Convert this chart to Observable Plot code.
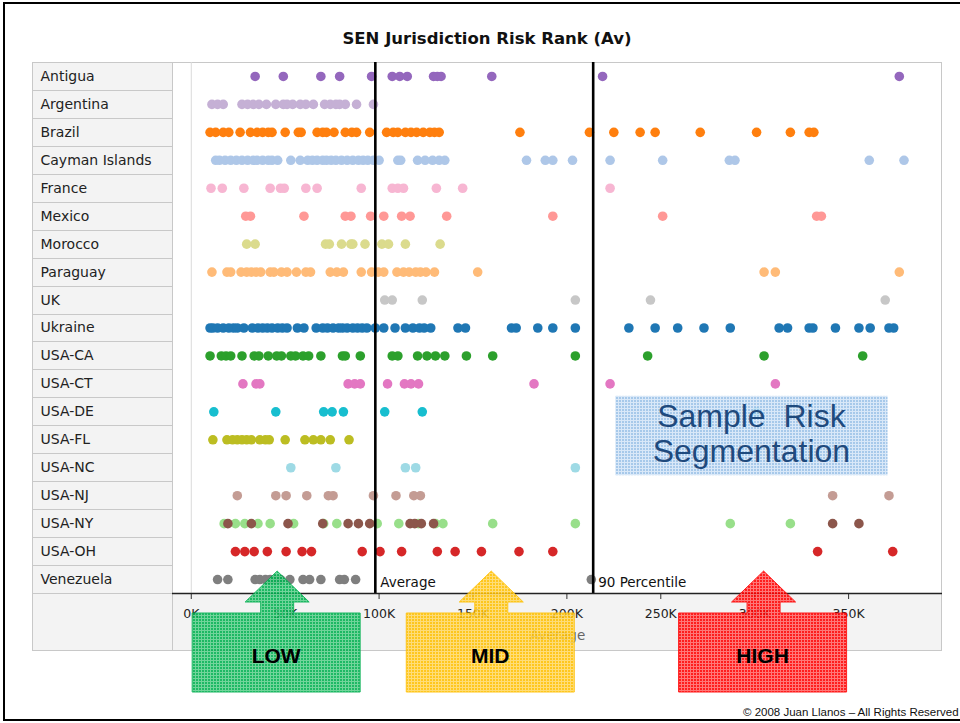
<!DOCTYPE html>
<html>
<head>
<meta charset="utf-8">
<script src="https://cdn.jsdelivr.net/npm/d3@7"></script>
<script src="https://cdn.jsdelivr.net/npm/@observablehq/plot@0.6"></script>
<style>
  html, body { margin: 0; padding: 0; background: #fff; }
  body { width: 960px; height: 723px; overflow: hidden; position: relative; font-family: "DejaVu Sans", sans-serif; }
  #outer { position: absolute; left: 3px; top: 2px; width: 990px; height: 719px; border: 2px solid #000; box-sizing: border-box; }
  #title { position: absolute; left: 32px; width: 910px; top: 29px; text-align: center; font: bold 16.5px "DejaVu Sans", sans-serif; color: #111; line-height: 20px; }
  #chart { position: absolute; left: 32px; top: 62px; }
  #copy { position: absolute; left: 743px; top: 706px; font: 11.5px "Liberation Sans", sans-serif; color: #111; white-space: nowrap; }
  #overlay { position: absolute; left: 0; top: 0; pointer-events: none; }
</style>
</head>
<body>
<div id="outer"></div>
<div id="title">SEN Jurisdiction Risk Rank (Av)</div>
<div id="chart"></div>
<div id="copy">© 2008 Juan Llanos – All Rights Reserved</div>
<script>
// ---------- data (values in thousands) ----------
const categories = ["Antigua","Argentina","Brazil","Cayman Islands","France","Mexico","Morocco","Paraguay","UK","Ukraine","USA-CA","USA-CT","USA-DE","USA-FL","USA-NC","USA-NJ","USA-NY","USA-OH","Venezuela"];

const antigua   = [34, 49, 69, 79, 96, 107, 111, 115, 129, 131, 133, 160, 219, 377];
const argentina = [11, 14, 17, 27, 30, 33, 36, 40, 45, 49, 51, 54, 58, 61, 65, 71, 74, 77, 79, 82, 88, 97];
const brazil    = [10, 13, 17, 20, 26, 31.5, 35, 38, 41, 43, 50, 57, 58.5, 67, 70, 72, 76, 82, 85.5, 88, 95, 104, 107.5, 110, 114, 117, 120, 123.5, 127, 129.5, 132, 175, 212, 225, 239, 247, 271, 301, 319, 329, 331.5];
const cayman    = [13, 15, 18, 21, 24, 27, 30, 33, 35, 38, 41, 43, 46, 53, 58, 62, 64.5, 67, 70, 72, 74.5, 77, 80, 83, 86, 89, 91.5, 94, 97, 100, 110, 111.5, 120.5, 124.5, 128.5, 132, 135, 178.5, 188.5, 192.5, 203, 223, 251, 286.5, 289.5, 361, 379.5];
const france    = [10.5, 16.5, 28, 42, 47.5, 49.5, 61, 67, 90.5, 107, 110, 113, 130.5, 144.5, 223];
const mexico    = [29, 31.5, 60, 82, 85, 95.5, 102.5, 112, 116.5, 136, 192.5, 251, 333, 335.5];
const morocco   = [29.5, 34, 71.5, 73.5, 80, 85, 86, 92.5, 101.5, 105, 114, 132.5];
const paraguay  = [11, 19, 21, 26.5, 29.5, 32, 34.5, 37, 42, 44, 48, 51, 56, 61, 63.5, 74, 77.5, 81, 90.5, 96, 99.5, 102.5, 109.5, 113, 116, 119.5, 122, 125, 129.5, 152.5, 305, 311, 377];
const uk        = [103, 107, 123, 204.5, 244.5, 369.5];
const ukraine   = [10, 11.5, 14, 17, 20, 22.5, 24.5, 28, 32.5, 35.5, 38, 40.5, 43, 46, 48.5, 51, 56.5, 60, 66.5, 70, 72.5, 75.5, 78.5, 80.5, 83, 86, 88.5, 91, 93.5, 98, 102.5, 108.5, 114, 118, 121.5, 124, 127.5, 142, 146, 170.5, 173, 184.5, 192.5, 204.5, 233, 247, 259, 273, 287, 313, 317.5, 329, 331, 343, 355.5, 361.5, 371.5, 374];
const usaCA     = [10, 16, 18.5, 21, 27, 33.5, 36, 41, 45.5, 48, 53, 55.5, 59.5, 62.5, 69, 80.5, 82, 90, 107, 110, 120.5, 125.5, 130, 135, 146.5, 160.5, 204.5, 243, 305, 357.5];
const usaCT     = [27.5, 34.5, 36.5, 83.5, 87, 90, 104.5, 113.5, 117, 121, 182.5, 223, 311];
const usaDE     = [12, 45, 70.5, 75, 81, 103, 123, 301];
const usaFL     = [11.5, 19, 22, 24.5, 27, 29.5, 32, 36.5, 39.5, 41.5, 50, 60.5, 65, 69, 74, 84];
const usaNC     = [53, 77, 114, 119.5, 204.5];
const usaNJ     = [24.5, 45, 50.5, 61.5, 73, 75.5, 97, 109, 118.5, 122, 341.5, 371.5];
const usaNYa    = [17.5, 23.5, 28.5, 35.5, 42, 54.5, 70.5, 77.5, 99, 110.5, 121, 130, 134, 160.5, 204.5, 287, 319];
const usaNYb    = [19.5, 32, 51.5, 70, 83.5, 89, 95, 116.5, 119, 122.5, 129, 341.5, 355.5];
const usaOH     = [23.5, 28.5, 33.5, 40.5, 50.5, 59, 64, 91, 100.5, 112, 131, 140.5, 154.5, 174.5, 192.5, 333.5, 373.5];
const venezuela = [14, 19.5, 34, 36.5, 39.5, 42, 44.5, 47.5, 52.5, 59.5, 63, 69, 79, 81.5, 87.5, 213];

const xTicks = [0, 50, 100, 150, 200, 250, 300, 350];
const refValues = [98, 214];
const refLabels = ["Average", "90 Percentile"];
const axisTitle = "Average";
const segLabels = ["LOW", "MID", "HIGH"];
const segCenters = [46, 160, 305];
const segmentNote = ["Sample\u00A0\u00A0Risk", "Segmentation"];

// styles
const palette = ["#9467bd","#c5b0d5","#ff7f0e","#aec7e8","#f7b6d2","#ff9896","#dbdb8d","#ffbb78","#c7c7c7","#1f77b4","#2ca02c","#e377c2","#17becf","#bcbd22","#9edae5","#c49c94","#98df8a","#8c564b","#d62728","#7f7f7f"];
const segColors = ["#00b050", "#ffc000", "#ff0000"];

// table built from the arrays
const series = [
  ["Antigua", antigua, 0], ["Argentina", argentina, 1], ["Brazil", brazil, 2], ["Cayman Islands", cayman, 3],
  ["France", france, 4], ["Mexico", mexico, 5], ["Morocco", morocco, 6], ["Paraguay", paraguay, 7],
  ["UK", uk, 8], ["Ukraine", ukraine, 9], ["USA-CA", usaCA, 10], ["USA-CT", usaCT, 11],
  ["USA-DE", usaDE, 12], ["USA-FL", usaFL, 13], ["USA-NC", usaNC, 14], ["USA-NJ", usaNJ, 15],
  ["USA-NY", usaNYa, 16], ["USA-NY", usaNYb, 17], ["USA-OH", usaOH, 18], ["Venezuela", venezuela, 19]
];
const points = series.flatMap(([row, vals, ci]) => vals.map(v => ({row, v, color: palette[ci]})));
const refs = refValues.map((value, i) => ({value, label: refLabels[i]}));
const lastRow = categories[categories.length - 1];

const W = 910, H = 589, ML = 140, MB = 58;
const chart = Plot.plot({
  width: W, height: H,
  marginLeft: ML, marginRight: 0, marginTop: 0, marginBottom: MB,
  style: {background: "transparent", fontFamily: "'DejaVu Sans', sans-serif", fontSize: "13px", color: "#222"},
  x: {domain: [-10, 400]},
  y: {type: "band", domain: categories, padding: 0, round: false},
  color: {type: "identity"},
  marks: [
    Plot.ruleX([0], {stroke: "#dadada", strokeWidth: 1}),
    Plot.dot(points, {x: "v", y: "row", fill: "color", r: 4.8}),
    Plot.ruleX(refValues, {stroke: "#000", strokeWidth: 2.6}),
    Plot.text(refs, {x: "value", y: () => lastRow, text: "label", textAnchor: "start", dx: 5, dy: 3, fontSize: 13.5, fill: "#111"}),
    Plot.text([axisTitle], {frameAnchor: "bottom", dy: 46, fontSize: 13.5, fill: "#666"}),
    Plot.axisX({ticks: xTicks, tickFormat: d => d + "K", tickSize: 6, tickPadding: 10, fontSize: 12.5, label: null, stroke: "#333", fill: "#222"}),
    Plot.axisY({tickSize: 0, tickPadding: 0, textAnchor: "start", dx: -(ML - 8), fontSize: 14, label: null, fill: "#222"})
  ]
});
document.getElementById("chart").appendChild(chart);

// ---------- chrome drawn around the plot ----------
const xs = chart.scale("x"), ys = chart.scale("y");
const bw = ys.bandwidth;
const svg = d3.select(chart);
const bg = svg.insert("g", ":first-child");
bg.append("rect").attr("x", 0).attr("y", 0).attr("width", ML).attr("height", H).attr("fill", "#f3f3f3");
bg.append("rect").attr("x", ML).attr("y", H - MB).attr("width", W - ML).attr("height", MB).attr("fill", "#f3f3f3");
const grid = bg.append("g");
categories.forEach((c, i) => {
  if (i === 0) return;
  const y0 = Math.round(ys.apply(c)) + 0.5;
  grid.append("line").attr("x1", 0).attr("x2", ML).attr("y1", y0).attr("y2", y0).attr("stroke", "#c8c8c8");
});
grid.append("line").attr("x1", 0).attr("x2", ML).attr("y1", H - MB + 0.5).attr("y2", H - MB + 0.5).attr("stroke", "#c8c8c8");
grid.append("line").attr("x1", ML + 0.5).attr("x2", ML + 0.5).attr("y1", 0).attr("y2", H).attr("stroke", "#c8c8c8");
grid.append("rect").attr("x", 0.5).attr("y", 0.5).attr("width", W - 1).attr("height", H - 1).attr("fill", "none").attr("stroke", "#c8c8c8");
svg.append("line").attr("x1", ML).attr("x2", W).attr("y1", H - MB + 0.5).attr("y2", H - MB + 0.5).attr("stroke", "#222").attr("stroke-width", 1.6);

// ---------- annotations overlay ----------
const ox = 32, oy = 62;
const ov = d3.select("body").append("svg").attr("id", "overlay").attr("width", 960).attr("height", 723);
const defs = ov.append("defs");
function pat(id, base, light) {
  const p = defs.append("pattern").attr("id", id).attr("width", 3).attr("height", 3).attr("patternUnits", "userSpaceOnUse");
  p.append("rect").attr("width", 3).attr("height", 3).attr("fill", base);
  p.append("rect").attr("width", 1).attr("height", 3).attr("fill", light);
  p.append("rect").attr("width", 3).attr("height", 1).attr("fill", light);
}
pat("pg", "#00b050", "#5fd08e");
pat("py", "#ffc000", "#ffd966");
pat("pr", "#ff0000", "#ff6666");
pat("pb", "#9fc4e8", "#d6e6f7");

// sample segmentation box
const bx1 = xs.apply(226) + ox, bx2 = xs.apply(371) + ox;
const by1 = ys.apply("USA-DE") + oy - 1.5, by2 = ys.apply("USA-NC") + bw + oy - 6;
ov.append("rect").attr("x", bx1).attr("y", by1).attr("width", bx2 - bx1).attr("height", by2 - by1)
  .attr("fill", "url(#pb)").attr("opacity", 0.92);
segmentNote.forEach((t, i) => {
  ov.append("text").attr("x", (bx1 + bx2) / 2).attr("y", by1 + 31 + i * 35)
    .attr("text-anchor", "middle").attr("fill", "#1f4a7d")
    .style("font", "32px 'Liberation Sans', Arial, sans-serif").text(t);
});

// LOW / MID / HIGH arrows
const apexY = ys.apply(lastRow) + oy + 6;
segLabels.forEach((lab, i) => {
  const cx = xs.apply(segCenters[i]) + ox;
  const hb = 602, bt = 613, bb = 692;
  const d = `M${cx},${apexY} L${cx + 32},${hb} L${cx + 16.5},${hb} L${cx + 16.5},${bt} L${cx + 83},${bt} L${cx + 83},${bb} L${cx - 85},${bb} L${cx - 85},${bt} L${cx - 16.5},${bt} L${cx - 16.5},${hb} L${cx - 32},${hb} Z`;
  ov.append("path").attr("d", d).attr("fill", `url(#${["pg","py","pr"][i]})`).attr("opacity", 0.88)
    .attr("stroke", segColors[i]).attr("stroke-width", 1);
  ov.append("text").attr("x", cx - 1).attr("y", 663).attr("text-anchor", "middle").attr("fill", "#000")
    .style("font", "bold 21px 'Liberation Sans', sans-serif").text(lab);
});
</script>
</body>
</html>
